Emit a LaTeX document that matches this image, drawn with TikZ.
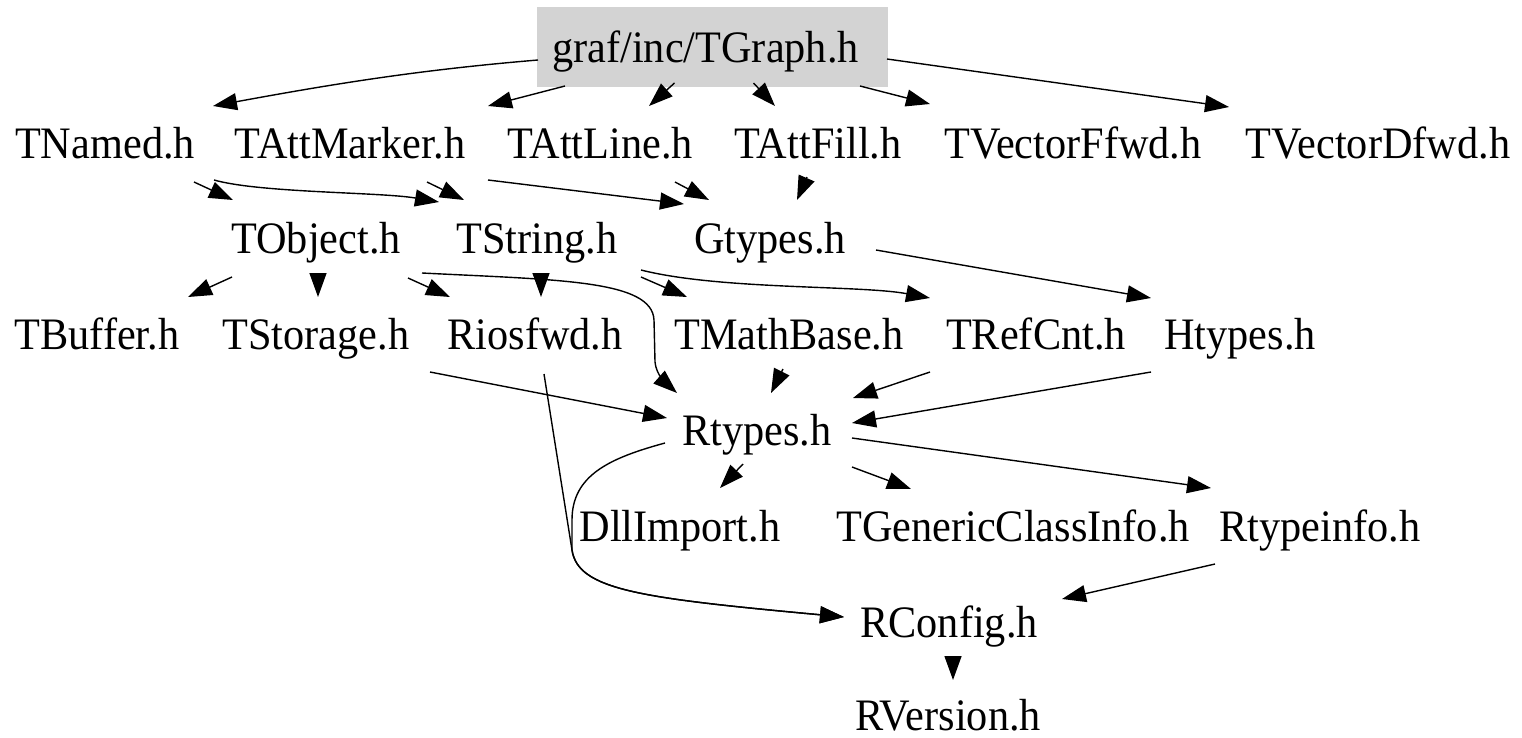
\documentclass[tikz,border=0pt]{standalone}
\usepackage{fontspec}
\setmainfont{Liberation Serif}[FakeStretch=0.94]
\usetikzlibrary{arrows.meta,calc}
\definecolor{boxgray}{RGB}{211,211,211}
\begin{document}
\begin{tikzpicture}[x=1pt,y=-1pt,
  lbl/.style={font=\fontsize{45}{54}\selectfont, text height=30pt, text depth=0pt, inner ysep=25pt, inner xsep=18pt},
  edge/.style={line width=1.4pt, -{Triangle[length=24pt,width=17pt]}}]
\useasboundingbox (0,0) rectangle (1522,737);
% nodes
\node[lbl, fill=boxgray, minimum width=351pt] (tgraph) at (712.5,47) {\hspace*{-14pt}graf/inc/TGraph.h};
\node[lbl] (tnamed) at (105,143) {TNamed.h};
\node[lbl] (tattmarker) at (350,143) {TAttMarker.h};
\node[lbl] (tattline) at (600,143) {TAttLine.h};
\node[lbl] (tattfill) at (818,143) {TAttFill.h};
\node[lbl] (tvff) at (1073,143) {TVectorFfwd.h};
\node[lbl] (tvdf) at (1378,143) {TVectorDfwd.h};
\node[lbl] (tobject) at (316,238) {TObject.h};
\node[lbl] (tstring) at (537,238) {TString.h};
\node[lbl] (gtypes) at (770,238) {Gtypes.h};
\node[lbl] (tbuffer) at (97,334) {TBuffer.h};
\node[lbl] (tstorage) at (316,334) {TStorage.h};
\node[lbl] (riosfwd) at (535,334) {Riosfwd.h};
\node[lbl] (tmathbase) at (789,334) {TMathBase.h};
\node[lbl] (trefcnt) at (1036,334) {TRefCnt.h};
\node[lbl] (htypes) at (1240,334) {Htypes.h};
\node[lbl] (rtypes) at (757,430) {Rtypes.h};
\node[lbl] (dllimport) at (680,526) {DllImport.h};
\node[lbl] (tgci) at (1013,526) {TGenericClassInfo.h};
\node[lbl] (rtypeinfo) at (1320,526) {Rtypeinfo.h};
\node[lbl] (rconfig) at (949,622) {RConfig.h};
\node[lbl] (rversion) at (948,715) {RVersion.h};
% edges from TGraph
\draw[edge] ($(tgraph)+(-174.5,13)$) .. controls +(-120,10) and +(120,-22) .. ($(tnamed)+(108,-37)$);
\draw[edge] ($(tgraph)+(-147.5,39)$) -- ($(tattmarker)+(138,-37)$);
\draw[edge] ($(tgraph)+(-38,36)$) -- ($(tattline)+(49,-37)$);
\draw[edge] ($(tgraph)+(41,36)$) -- ($(tattfill)+(-43,-37)$);
\draw[edge] ($(tgraph)+(147.5,39)$) -- ($(tvff)+(-143,-39)$);
\draw[edge] ($(tgraph)+(174.5,12)$) -- ($(tvdf)+(-149,-36)$);
% row 2 -> row 3
\draw[edge] ($(tnamed)+(89,39)$) -- ($(tobject)+(-83,-38)$);
\draw[edge] ($(tnamed)+(109,37)$) .. controls +(46,13) and +(-59,-10) .. ($(tstring)+(-98,-36)$);
\draw[edge] ($(tattmarker)+(77,39)$) -- ($(tstring)+(-73,-38)$);
\draw[edge] ($(tattmarker)+(138,37)$) -- ($(gtypes)+(-86,-34)$);
\draw[edge] ($(tattline)+(75,39)$) -- ($(gtypes)+(-61,-38)$);
\draw[edge] ($(tattfill)+(-11,34)$) -- ($(gtypes)+(27,-38)$);
% row 3 -> row 4
\draw[edge] ($(tobject)+(-84,39)$) -- ($(tbuffer)+(91,-37)$);
\draw[edge] ($(tobject)+(2,36)$) -- ($(tstorage)+(2,-37)$);
\draw[edge] ($(tobject)+(92,40)$) -- ($(riosfwd)+(-85,-37)$);
\draw[edge] ($(tobject)+(106,35)$) .. controls (560,280) and (652,280) .. (654,320) -- (655,362) .. controls (656,375) and (668,385) .. ($(rtypes)+(-80,-37)$);
\draw[edge] ($(tstring)+(4,36)$) -- ($(riosfwd)+(6,-37)$);
\draw[edge] ($(tstring)+(104,39)$) -- ($(tmathbase)+(-102,-37)$);
\draw[edge] ($(tstring)+(104,32)$) .. controls (720,290) and (860,285) .. ($(trefcnt)+(-106,-36)$);
\draw[edge] ($(gtypes)+(106,12)$) -- ($(htypes)+(-89,-36)$);
% row 4 -> Rtypes
\draw[edge] ($(tstorage)+(114,38)$) -- ($(rtypes)+(-90,-12)$);
\draw[edge] ($(tmathbase)+(-6,35)$) -- ($(rtypes)+(14,-37)$);
\draw[edge] ($(trefcnt)+(-106,38)$) -- ($(rtypes)+(96,-32)$);
\draw[edge] ($(htypes)+(-89,38)$) -- ($(rtypes)+(95,-7)$);
% to RConfig
\draw[edge] ($(riosfwd)+(9,40)$) -- (572,550) .. controls (578,590) and (640,598) .. ($(rconfig)+(-105,-5)$);
\draw[edge] ($(rtypes)+(-92,13)$) .. controls (610,458) and (572,475) .. (572,520) -- (572,550) .. controls (578,590) and (640,598) .. ($(rconfig)+(-105,-5)$);
% from Rtypes
\draw[edge] ($(rtypes)+(-14,34)$) -- ($(dllimport)+(40,-38)$);
\draw[edge] ($(rtypes)+(95,37)$) -- ($(tgci)+(-102,-37)$);
\draw[edge] ($(rtypes)+(95,8)$) -- ($(rtypeinfo)+(-109,-38)$);
\draw[edge] ($(rtypeinfo)+(-105,38)$) -- ($(rconfig)+(113,-23)$);
\draw[edge] ($(rconfig)+(4,36)$) -- ($(rversion)+(5,-35)$);
\end{tikzpicture}
\end{document}
